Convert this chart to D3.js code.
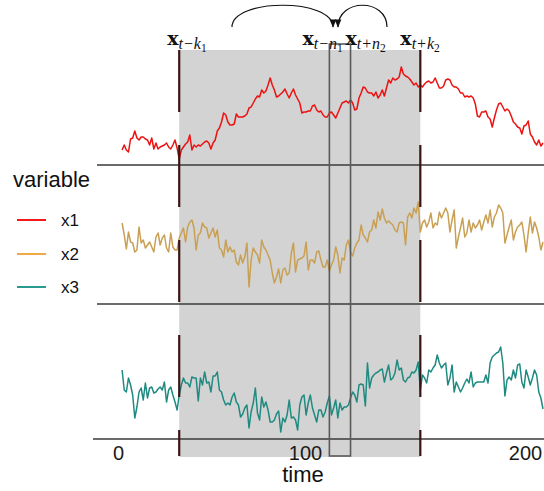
<!DOCTYPE html>
<html><head><meta charset="utf-8">
<script src="https://cdn.jsdelivr.net/npm/d3@7/dist/d3.min.js"></script>
<style>body{margin:0;background:#fff}svg{display:block}</style>
</head><body><svg id="chart" width="544" height="491"></svg>
<script>
const seriesNames = ["x1", "x2", "x3"];
const lineColors = ["#ee1111", "#c9a053", "#1f8a80"];
const legendColors = ["#f21a1a", "#f0a848", "#2a9a90"];
const timeTicks = [0, 100, 200];
const outerWindow = [28, 142];
const innerWindow = [99, 109];

const x1Values = [
15,20,15,13,26,27,34,27,25,28,
28,26,25,20,27,16,22,16,18,19,
20,22,18,16,20,25,17,6,15,18,
21,23,30,15,20,18,20,19,21,23,
24,22,16,22,25,34,37,43,52,50,
43,40,40,41,51,48,48,48,49,51,
57,58,62,66,69,68,75,72,74,80,
87,80,75,68,69,71,73,76,71,67,
72,76,70,66,62,52,53,53,54,54,
59,60,55,53,54,50,48,48,52,53,
50,47,52,57,62,63,64,62,65,62,
55,56,67,72,78,77,73,72,72,69,
73,67,70,75,69,77,85,82,87,85,
86,88,98,91,89,88,86,83,80,82,
78,80,78,81,83,84,82,83,87,82,
77,77,79,85,86,85,80,78,78,76,
72,72,68,69,68,69,67,61,49,48,
53,53,54,48,46,38,47,55,61,62,
58,54,56,54,49,43,41,38,37,31,
39,40,44,31,28,23,20,25,19,22];

const x2Values = [
81,69,55,72,62,61,52,54,77,61,
64,56,59,62,57,52,67,71,59,66,
69,56,52,71,57,54,54,66,71,76,
62,77,82,84,76,54,69,71,81,77,
76,66,71,76,67,74,56,54,47,64,
52,57,52,54,42,39,49,41,47,61,
17,44,56,52,49,41,64,57,54,49,
44,31,21,27,35,21,34,36,29,31,
51,61,32,44,45,46,48,62,34,44,
44,41,52,53,44,37,37,44,33,39,
44,57,49,31,46,44,59,64,52,48,
56,61,64,79,69,66,62,72,74,84,
76,92,84,95,86,81,83,81,79,74,
72,81,82,81,59,87,91,86,96,91,
102,72,81,84,77,82,91,76,81,79,
92,86,91,96,91,72,84,94,56,67,
76,86,67,71,84,72,81,76,79,84,
74,82,89,81,94,77,87,91,99,96,
91,61,69,77,84,64,72,77,79,82,
69,52,71,87,71,82,76,67,54,62];

const x3Values = [
69,49,47,61,54,44,21,32,47,51,
39,56,41,51,52,46,47,50,52,49,
57,37,49,52,44,37,29,44,54,61,
56,56,52,62,61,61,38,61,54,67,
56,57,47,63,63,67,49,47,39,34,
36,34,42,46,37,34,22,25,31,34,
11,27,36,51,26,19,42,32,37,29,
17,17,19,25,28,7,21,17,24,39,
21,22,19,9,34,42,44,24,36,44,
31,24,17,29,29,22,27,36,43,24,
31,39,21,36,29,32,32,34,41,47,
44,37,54,55,54,33,76,51,61,64,
66,67,69,70,57,66,74,59,61,66,
79,69,71,59,57,61,62,67,66,69,
77,49,64,61,56,69,67,71,74,84,
76,71,74,76,54,61,74,47,57,52,
47,51,56,60,56,67,52,56,57,57,
57,57,64,56,76,82,84,86,87,92,
76,43,59,62,59,69,61,74,75,57,
51,69,62,54,61,69,64,47,41,30];

const timeIndex = x1Values.map((_, i) => i + 1);
const allSeries = [x1Values, x2Values, x3Values];

const svg = d3.select("#chart");
const x = d3.scaleLinear().domain([0, 200]).range([120, 543]);
const panelBottoms = [165, 304, 439];
const panelStarts = [97, 97, 93];
const yScales = panelBottoms.map(b => d3.scaleLinear().domain([0, 100]).range([b, b - 100]));

// shaded window
svg.append("rect")
  .attr("x", x(outerWindow[0])).attr("y", 50)
  .attr("width", x(outerWindow[1]) - x(outerWindow[0])).attr("height", 407)
  .attr("fill", "#d3d3d3");

// panel base lines
panelBottoms.forEach((b, i) => {
  svg.append("line").attr("x1", panelStarts[i]).attr("x2", 544)
    .attr("y1", b).attr("y2", b).attr("stroke", "#3a3a3a").attr("stroke-width", 1.3);
});

// series lines
allSeries.forEach((vals, i) => {
  const line = d3.line().x((d, j) => x(timeIndex[j])).y(d => yScales[i](d));
  svg.append("path").datum(vals).attr("d", line)
    .attr("fill", "none").attr("stroke", lineColors[i]).attr("stroke-width", 1.5)
    .attr("stroke-linejoin", "round");
});

// dashed boundary markers
outerWindow.forEach(t => {
  svg.append("line").attr("x1", x(t)).attr("x2", x(t)).attr("y1", 50).attr("y2", 456)
    .attr("stroke", "#3b1515").attr("stroke-width", 2.2).attr("stroke-dasharray", "62,33");
});

// inner window box
svg.append("rect")
  .attr("x", x(innerWindow[0])).attr("y", 44)
  .attr("width", x(innerWindow[1]) - x(innerWindow[0])).attr("height", 412)
  .attr("fill", "none").attr("stroke", "#5a5a5a").attr("stroke-width", 1.6);

// top math labels
function mathLabel(lx, sub, subsub) {
  const t = svg.append("text").attr("x", lx).attr("y", 45).attr("fill", "#111");
  t.append("tspan").text("x").attr("font-family", "DejaVu Serif").attr("font-weight", "bold").attr("font-size", 19);
  t.append("tspan").text(sub).attr("font-family", "Liberation Serif").attr("font-style", "italic")
    .attr("font-size", 16).attr("dy", 4);
  t.append("tspan").text(subsub).attr("font-family", "Liberation Serif")
    .attr("font-size", 11.5).attr("dy", 3);
}
mathLabel(x(outerWindow[0]) - 12, "t\u2212k", "1");
mathLabel(x(innerWindow[0]) - 27, "t\u2212n", "1");
mathLabel(x(innerWindow[1]) - 5, "t+n", "2");
mathLabel(x(outerWindow[1]) - 20, "t+k", "2");

// arrows
const defs = svg.append("defs");
defs.append("marker").attr("id", "arr").attr("viewBox", "0 0 10 10").attr("refX", 9).attr("refY", 5)
  .attr("markerWidth", 7).attr("markerHeight", 7).attr("orient", "auto")
  .append("path").attr("d", "M0,1 L10,5 L0,9 Z").attr("fill", "#111");
const arcs = [[232, 333], [387, 338]];
arcs.forEach(([a, b]) => {
  svg.append("path")
    .attr("d", `M${a},27 C${a},-2 ${b},-2 ${b},27`)
    .attr("fill", "none").attr("stroke", "#111").attr("stroke-width", 1.2)
    .attr("marker-end", "url(#arr)");
});

// tick labels
const tickScale = d3.scaleLinear().domain(timeTicks).range([118, 305, 525]);
const axis = svg.append("g").attr("transform", "translate(0,443)")
  .call(d3.axisBottom(tickScale).tickValues(timeTicks).tickSize(0).tickFormat(d3.format("d")));
axis.select(".domain").remove();
axis.selectAll("text").attr("font-size", 20).attr("font-family", "Liberation Sans").attr("fill", "#1a1a1a");

svg.append("text").attr("x", 303).attr("y", 482).attr("text-anchor", "middle")
  .attr("font-family", "Liberation Sans").attr("font-size", 22).attr("fill", "#111").text("time");

// legend
svg.append("text").attr("x", 13).attr("y", 187).attr("font-family", "Liberation Sans")
  .attr("font-size", 22).attr("fill", "#111").text("variable");
const legendY = [220, 254, 287];
seriesNames.forEach((n, i) => {
  svg.append("line").attr("x1", 17).attr("x2", 46).attr("y1", legendY[i]).attr("y2", legendY[i])
    .attr("stroke", legendColors[i]).attr("stroke-width", 2);
  svg.append("text").attr("x", 61).attr("y", legendY[i] + 6).attr("font-family", "Liberation Sans")
    .attr("font-size", 17).attr("fill", "#111").text(n);
});
</script></body></html>
